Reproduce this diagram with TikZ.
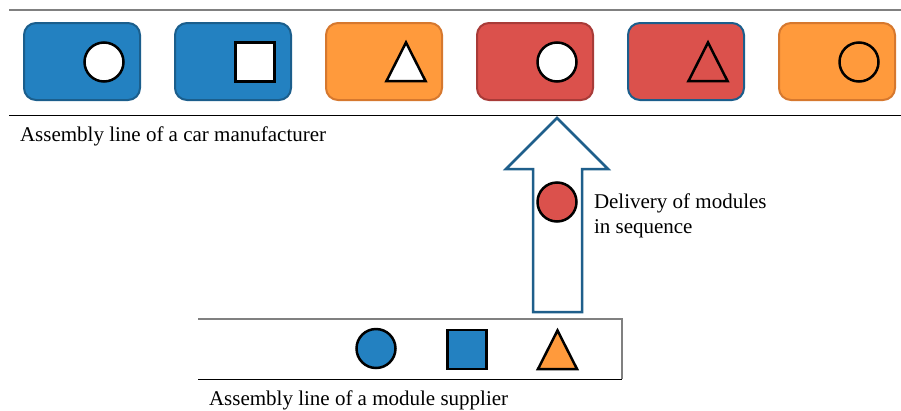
\documentclass[tikz,border=0pt]{standalone}
\usepackage{fontspec}
\setmainfont{Liberation Serif}
\begin{document}
\begin{tikzpicture}[x=1pt,y=-1pt,
  every node/.style={inner sep=0pt, outer sep=0pt},
  label/.style={font=\fontsize{21}{25.2}\selectfont, anchor=base west, align=left},
  carbox/.style={rectangle, rounded corners=12pt, line width=2pt, minimum width=116pt, minimum height=77pt},
  bluebox/.style={carbox, fill=cblue, draw=cblueD},
  orangebox/.style={carbox, fill=corange, draw=corangeD},
  redbox/.style={carbox, fill=cred, draw=credD},
  mod/.style={draw=black, line width=2.5pt},
  modcircle/.style={mod, circle, minimum size=39pt},
  modsquare/.style={mod, rectangle, minimum size=39pt},
  rail/.style={line width=1pt}
]
\definecolor{cblue}{HTML}{2381C1}
\definecolor{cblueD}{HTML}{1B5E8C}
\definecolor{corange}{HTML}{FF9A3C}
\definecolor{corangeD}{HTML}{D6782E}
\definecolor{cred}{HTML}{DB514C}
\definecolor{credD}{HTML}{A83B38}
\definecolor{arrowD}{HTML}{1F5F8B}
\definecolor{railgray}{HTML}{808080}

\useasboundingbox (0,0) rectangle (901,410);

% assembly line of the car manufacturer
\draw[rail, railgray, line width=1.5pt] (9,10) -- (901,10);
\draw[rail] (9,115) -- (901,115);

\node[bluebox]   (c1) at (82,61.5)  {};
\node[bluebox]   (c2) at (233,61.5) {};
\node[orangebox] (c3) at (384,61.5) {};
\node[redbox]    (c4) at (535,61.5) {};
\node[carbox, fill=cred, draw=cblueD] (c5) at (686,61.5) {};
\node[orangebox] (c6) at (837,61.5) {};

\node[modcircle, fill=white] (m1) at (104,62) {};
\node[modsquare, fill=white] (m2) at (255,62) {};
\draw[mod, fill=white, line join=miter] (386.5,81) -- (406,42.5) -- (425.5,81) -- cycle;
\node[modcircle, fill=white] (m4) at (557,62) {};
\draw[mod, line join=miter] (688.5,81) -- (708,42.5) -- (727.5,81) -- cycle;
\node[modcircle] (m6) at (859,62) {};

\node[label] (carlabel) at (20,141.5) {Assembly line of a car manufacturer};

% delivery arrow
\draw[line width=2.5pt, draw=arrowD, fill=white, line join=miter]
  (533,312) -- (533,169) -- (506,169) -- (557,118) -- (608,169) -- (582,169) -- (582,312) -- cycle;
\node[modcircle, fill=cred] (delivered) at (557,202) {};
% base of a two-line node is the baseline of its last line
\node[label] (deliverylabel) at (594,233.5) {Delivery of modules\\in sequence};

% assembly line of the module supplier
\draw[rail, railgray, line width=1.5pt] (198,319) -- (622,319) -- (622,379);
\draw[rail] (198,379) -- (622,379);

\node[modcircle, fill=cblue] (s1) at (376,348.5) {};
\node[modsquare, fill=cblue] (s2) at (467,349.5) {};
\draw[mod, fill=corange, line join=miter] (538,369) -- (557.5,330.5) -- (577,369) -- cycle;

\node[label] (supplierlabel) at (209,405.3) {Assembly line of a module supplier};
\end{tikzpicture}
\end{document}
